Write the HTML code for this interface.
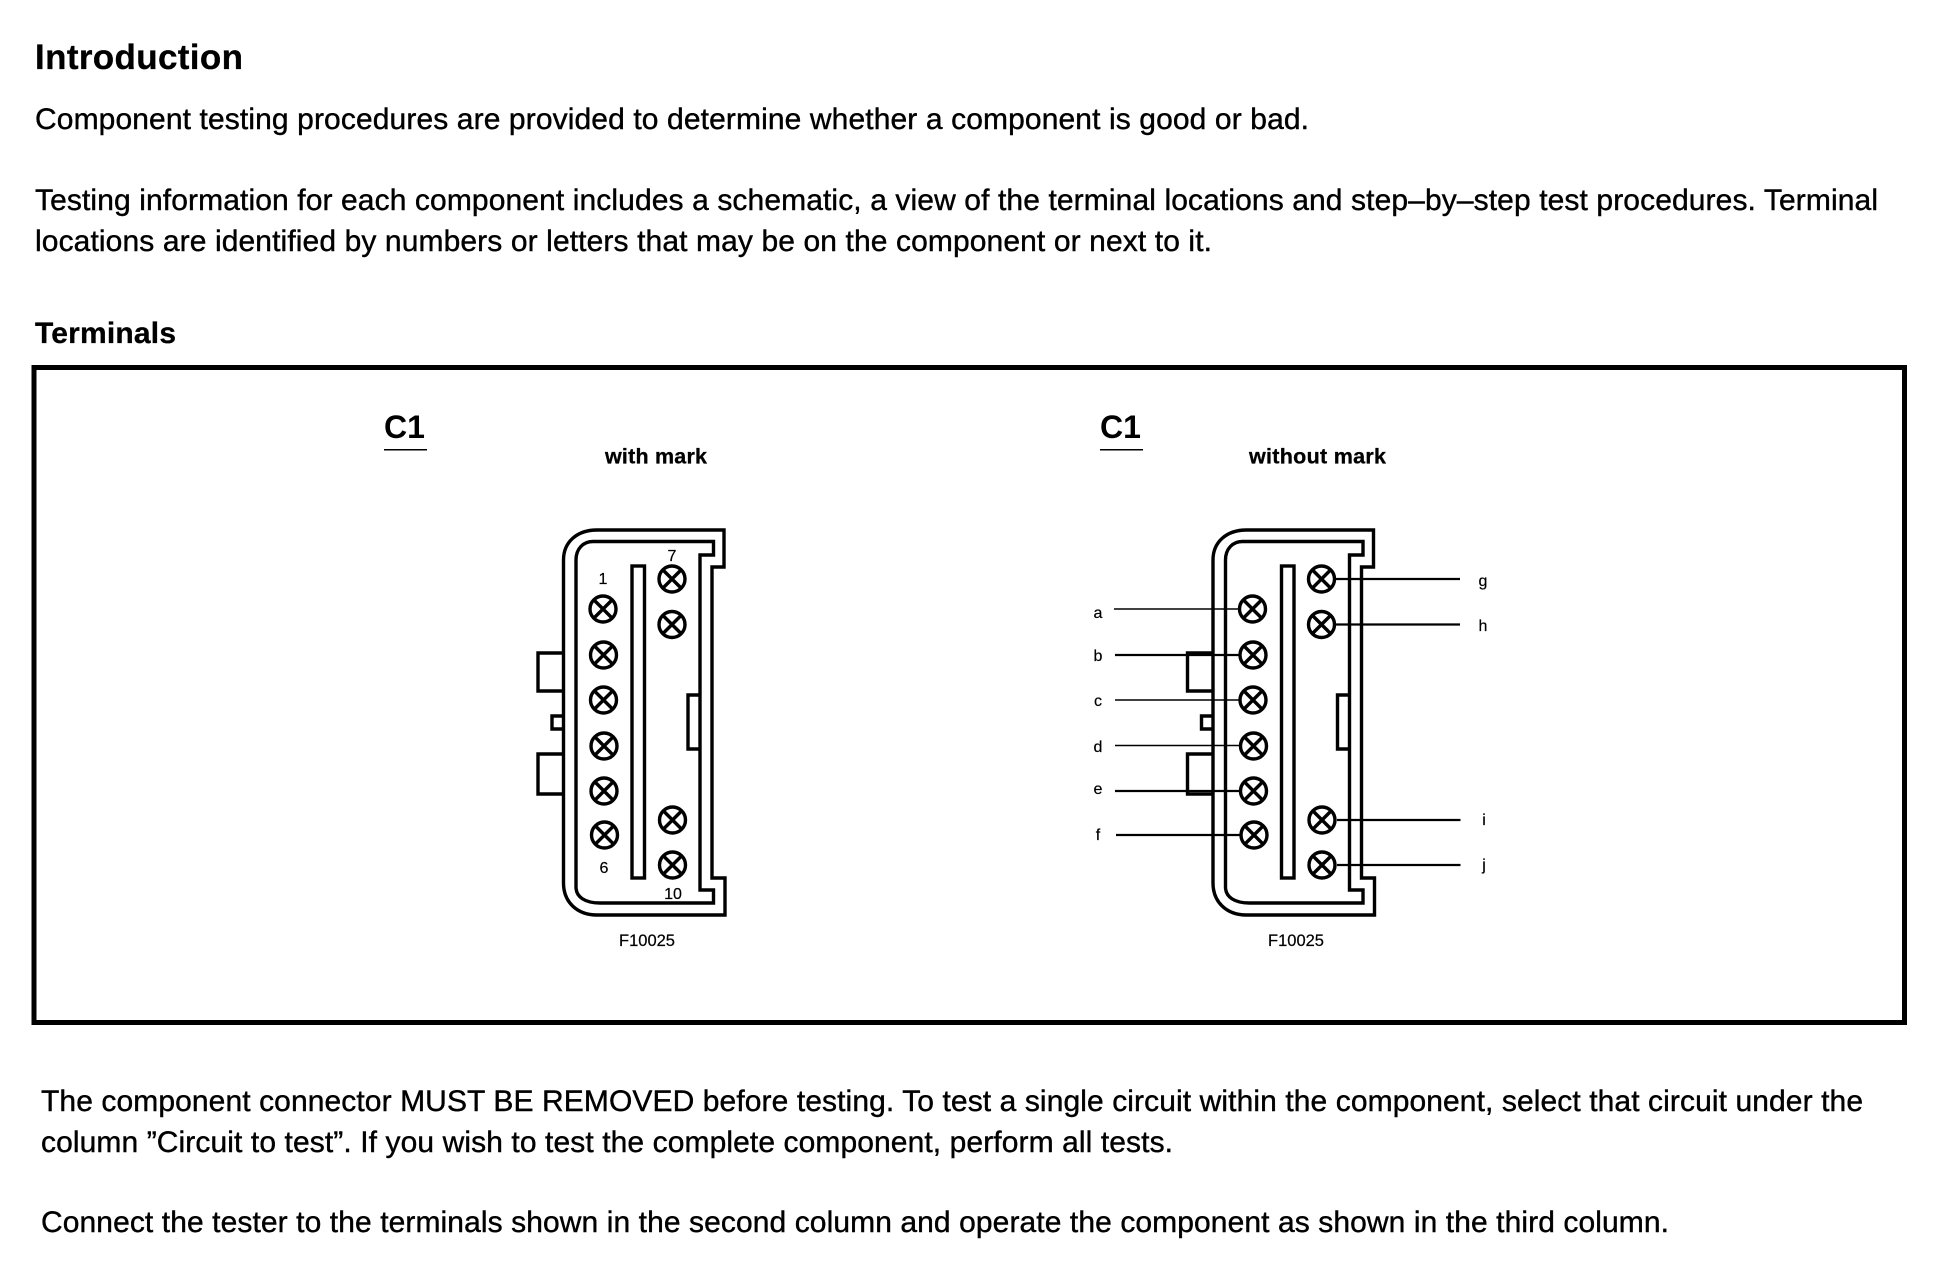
<!DOCTYPE html>
<html>
<head>
<meta charset="utf-8">
<style>
html,body{margin:0;padding:0;background:#fff;width:1938px;height:1280px;overflow:hidden}
svg{display:block}
text{font-family:"Liberation Sans",sans-serif;fill:#000}
.b{font-size:30px;stroke:#000;stroke-width:.4px}
.h{font-weight:bold}
.s{font-size:16px;stroke:#000;stroke-width:.2px}
.f{font-size:16.500px;stroke:#000;stroke-width:.2px}
.c{fill:none;stroke:#000;stroke-width:3.4}
.l{fill:none;stroke:#000;stroke-width:2.200}
.t{fill:none;stroke:#000;stroke-width:1.600}
</style>
</head>
<body>
<svg width="1938" height="1280" viewBox="0 0 1938 1280" xmlns="http://www.w3.org/2000/svg">
<defs>
<g id="conn">
<path class="c" d="M724 530H597C577 530 563.500 542 563.500 560V883C563.500 902 577 915 597 915H725V878H712V567H724Z"/>
<path class="c" d="M713.500 541.500H593C583 541.500 576 549 576 560V887C576 897 585 903 600 903H713.500V890H700V555H713.500Z"/>
<rect class="c" x="632" y="566" width="12.500" height="312"/>
<path class="c" d="M563 653H538V691H563M563 716H552V729H563M563 754H538V794H563M700 695H688V749H700"/>
<g class="c">
<circle cx="603" cy="609" r="13"/><path d="M594 600L612 618M612 600L594 618"/>
<circle cx="603.500" cy="655" r="13"/><path d="M594.500 646L612.500 664M612.500 646L594.500 664"/>
<circle cx="603.500" cy="700" r="13"/><path d="M594.500 691L612.500 709M612.500 691L594.500 709"/>
<circle cx="604" cy="746" r="13"/><path d="M595 737L613 755M613 737L595 755"/>
<circle cx="604" cy="791" r="13"/><path d="M595 782L613 800M613 782L595 800"/>
<circle cx="604.500" cy="835" r="13"/><path d="M595.500 826L613.500 844M613.500 826L595.500 844"/>
<circle cx="672" cy="579" r="13"/><path d="M663 570L681 588M681 570L663 588"/>
<circle cx="672" cy="624.500" r="13"/><path d="M663 615.500L681 633.500M681 615.500L663 633.500"/>
<circle cx="672.500" cy="820" r="13"/><path d="M663.500 811L681.500 829M681.500 811L663.500 829"/>
<circle cx="672.500" cy="865" r="13"/><path d="M663.500 856L681.500 874M681.500 856L663.500 874"/>
</g>
</g>
</defs>

<text class="h" x="35" y="69" font-size="35" stroke="#000" stroke-width=".3" textLength="208" lengthAdjust="spacing">Introduction</text>
<text class="b" x="35" y="129" textLength="1274" lengthAdjust="spacing">Component testing procedures are provided to determine whether a component is good or bad.</text>
<text class="b" x="35" y="210" textLength="1843" lengthAdjust="spacing">Testing information for each component includes a schematic, a view of the terminal locations and step–by–step test procedures. Terminal</text>
<text class="b" x="35" y="251" textLength="1177" lengthAdjust="spacing">locations are identified by numbers or letters that may be on the component or next to it.</text>
<text class="h" x="35" y="343" font-size="30" stroke="#000" stroke-width=".3" textLength="141" lengthAdjust="spacing">Terminals</text>

<rect x="34" y="367.500" width="1870.500" height="655" fill="none" stroke="#000" stroke-width="5"/>

<text class="h" x="384" y="438" font-size="32">C1</text>
<rect x="384" y="449" width="43" height="1.500"/>
<text class="h" x="605" y="463.500" font-size="21.500" stroke="#000" stroke-width=".3" textLength="102" lengthAdjust="spacing">with mark</text>
<text class="h" x="1100" y="438" font-size="32">C1</text>
<rect x="1100" y="449" width="43" height="1.500"/>
<text class="h" x="1249" y="463.500" font-size="21.500" stroke="#000" stroke-width=".3" textLength="137" lengthAdjust="spacing">without mark</text>

<use href="#conn"/>
<text class="s" x="603" y="584" text-anchor="middle">1</text>
<text class="s" x="604" y="873" text-anchor="middle">6</text>
<text class="s" x="672" y="561" text-anchor="middle">7</text>
<text class="s" x="673" y="899" text-anchor="middle">10</text>
<text class="f" x="647" y="946" text-anchor="middle">F10025</text>

<use href="#conn" x="649.500"/>
<text class="f" x="1296" y="946" text-anchor="middle">F10025</text>
<path class="t" d="M1114 609H1238M1115 700H1239M1115 745.500H1239"/>
<path class="l" d="M1115 655H1239M1115 791H1239M1116 835H1240M1335 579H1460M1335 624.500H1460M1337 820H1460.500M1337 865H1460.500"/>
<text class="s" x="1098" y="618" text-anchor="middle">a</text>
<text class="s" x="1098" y="661" text-anchor="middle">b</text>
<text class="s" x="1098" y="706" text-anchor="middle">c</text>
<text class="s" x="1098" y="752" text-anchor="middle">d</text>
<text class="s" x="1098" y="794" text-anchor="middle">e</text>
<text class="s" x="1098" y="840" text-anchor="middle">f</text>
<text class="s" x="1483" y="586" text-anchor="middle">g</text>
<text class="s" x="1483" y="631" text-anchor="middle">h</text>
<text class="s" x="1484" y="825" text-anchor="middle">i</text>
<text class="s" x="1484" y="870" text-anchor="middle">j</text>

<text class="b" x="41" y="1111" textLength="1822" lengthAdjust="spacing">The component connector MUST BE REMOVED before testing. To test a single circuit within the component, select that circuit under the</text>
<text class="b" x="41" y="1152" textLength="1132" lengthAdjust="spacing">column ”Circuit to test”. If you wish to test the complete component, perform all tests.</text>
<text class="b" x="41" y="1232" textLength="1628" lengthAdjust="spacing">Connect the tester to the terminals shown in the second column and operate the component as shown in the third column.</text>
</svg>
</body>
</html>
